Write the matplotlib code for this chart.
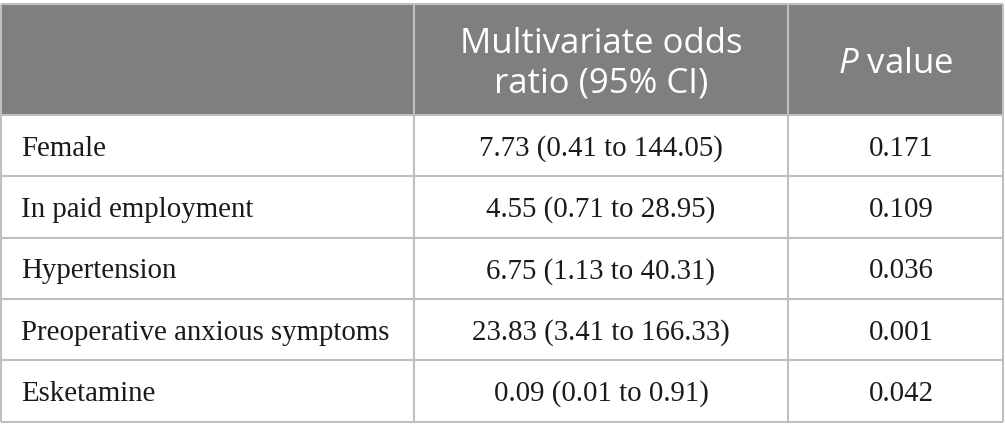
import matplotlib
matplotlib.use('Agg')
import matplotlib.pyplot as plt
from matplotlib.patches import Rectangle

plt.rcParams['mathtext.fontset'] = 'custom'
plt.rcParams['mathtext.rm'] = 'Open Sans'
plt.rcParams['mathtext.it'] = 'Open Sans:italic'

# table content
row_labels = ['Female', 'In paid employment', 'Hypertension',
              'Preoperative anxious symptoms', 'Esketamine']
odds_ratio = ['7.73 (0.41 to 144.05)', '4.55 (0.71 to 28.95)',
              '6.75 (1.13 to 40.31)', '23.83 (3.41 to 166.33)',
              '0.09 (0.01 to 0.91)']
p_values = ['0.171', '0.109', '0.036', '0.001', '0.042']
header_or = ['Multivariate odds', 'ratio (95% CI)']
header_p = r'$\mathit{P}$ value'

W, H = 1005, 438
fig = plt.figure(figsize=(W/100, H/100), dpi=100)
ax = fig.add_axes([0, 0, 1, 1])
ax.set_xlim(0, W)
ax.set_ylim(H, 0)
ax.axis('off')

# layout (pixels)
x_cols = [1, 414, 788, 1003]
y_top = 4
y_head = 115
row_h = (421.5 - y_head) / len(row_labels)
head_col = '#7f807e'
line_col = '#bfbfbf'
lw = 1.5

ax.add_patch(Rectangle((x_cols[0], y_top), x_cols[-1]-x_cols[0], y_head-y_top,
                       facecolor=head_col, edgecolor='none'))

# horizontal lines
ys = [y_top, y_head] + [y_head + row_h*(i+1) for i in range(len(row_labels))]
for y in ys:
    ax.plot([x_cols[0], x_cols[-1]], [y, y], color=line_col, lw=lw,
            solid_capstyle='butt')
# vertical lines
for x in x_cols:
    ax.plot([x, x], [y_top, ys[-1]], color=line_col, lw=lw, solid_capstyle='butt')

# header text
hfont = dict(family='Open Sans', fontsize=25, color='white')
c2 = (x_cols[1] + x_cols[2]) / 2
c3 = (x_cols[2] + x_cols[3]) / 2
ax.text(c2, 53, header_or[0], ha='center', va='baseline', **hfont)
ax.text(c2, 93, header_or[1], ha='center', va='baseline', **hfont)
ax.text(c3, 73, header_p, ha='center', va='baseline', **hfont)

# body
bfont = dict(family='Liberation Serif', fontsize=20.8, color='#1a1a1a')
for i in range(len(row_labels)):
    yb = y_head + row_h*(i + 0.5) + 10
    ax.text(21, yb, row_labels[i], ha='left', va='baseline', **bfont)
    ax.text(c2, yb, odds_ratio[i], ha='center', va='baseline', **bfont)
    ax.text(c3 + 6, yb, p_values[i], ha='center', va='baseline', **bfont)

fig.savefig('out.png', dpi=100)
